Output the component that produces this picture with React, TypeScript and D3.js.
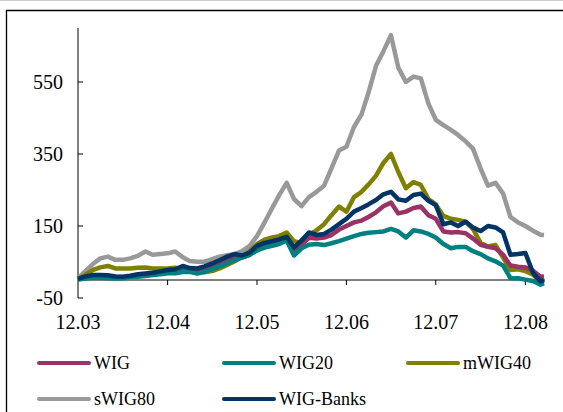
import React, { useEffect, useRef } from 'react';
import * as d3 from 'd3';

// months from Dec 2003 to Feb 2009 (one point per month, last one mid-Feb 2009)
const months: string[] = [
  '2003-12-01',
  '2004-01-01', '2004-02-01', '2004-03-01', '2004-04-01', '2004-05-01', '2004-06-01',
  '2004-07-01', '2004-08-01', '2004-09-01', '2004-10-01', '2004-11-01', '2004-12-01',
  '2005-01-01', '2005-02-01', '2005-03-01', '2005-04-01', '2005-05-01', '2005-06-01',
  '2005-07-01', '2005-08-01', '2005-09-01', '2005-10-01', '2005-11-01', '2005-12-01',
  '2006-01-01', '2006-02-01', '2006-03-01', '2006-04-01', '2006-05-01', '2006-06-01',
  '2006-07-01', '2006-08-01', '2006-09-01', '2006-10-01', '2006-11-01', '2006-12-01',
  '2007-01-01', '2007-02-01', '2007-03-01', '2007-04-01', '2007-05-01', '2007-06-01',
  '2007-07-01', '2007-08-01', '2007-09-01', '2007-10-01', '2007-11-01', '2007-12-01',
  '2008-01-01', '2008-02-01', '2008-03-01', '2008-04-01', '2008-05-01', '2008-06-01',
  '2008-07-01', '2008-08-01', '2008-09-01', '2008-10-01', '2008-11-01', '2008-12-01',
  '2009-01-01', '2009-02-01', '2009-02-15',
];

const wig = [
  2, 8, 12, 12, 11, 8, 8, 10, 13, 15, 17, 21, 25,
  27, 33, 29, 28, 33, 40, 48, 58, 65, 63, 70, 88,
  95, 100, 104, 112, 82, 98, 117, 115, 118, 125, 140, 150,
  160, 165, 175, 188, 205, 215, 185, 190, 200, 204, 180, 170,
  135, 132, 133, 130, 115, 98, 92, 88, 70, 40, 37, 35,
  26, 9, 10,
];

const wig20 = [
  1, 4, 7, 6, 5, 4, 5, 8, 9, 11, 14, 16, 19,
  19, 22, 23, 18, 22, 30, 38, 46, 55, 62, 70, 82,
  90, 95, 100, 110, 68, 88, 98, 100, 97, 102, 108, 115,
  122, 128, 131, 133, 135, 142, 135, 118, 138, 135, 128, 118,
  100, 88, 92, 92, 80, 72, 60, 52, 40, 5, 5, 1,
  -3, -13, -9,
];

const mwig40 = [
  3, 15, 28, 35, 39, 32, 32, 32, 34, 35, 32, 32, 32,
  34, 30, 28, 26, 22, 25, 32, 42, 52, 65, 80, 100,
  112, 118, 122, 132, 108, 102, 125, 138, 155, 180, 204, 190,
  230, 245, 265, 290, 325, 350, 300, 255, 272, 264, 225, 210,
  178, 170, 167, 162, 142, 103, 93, 97, 62, 28, 30, 25,
  15, -5, -3,
];

const swig80 = [
  5, 25, 45, 60, 65, 56, 56, 60, 67, 79, 70, 72, 74,
  79, 63, 53, 51, 51, 58, 65, 69, 72, 80, 95, 122,
  160, 200, 235, 270, 225, 205, 230, 245, 262, 310, 360, 370,
  425, 460, 520, 595, 635, 680, 590, 550, 565, 560, 490, 445,
  430, 417, 403, 385, 365, 310, 262, 270, 240, 175, 160, 150,
  137, 126, 125,
];

const wigBanks = [
  3, 10, 14, 14, 13, 10, 9, 12, 16, 18, 20, 24, 28,
  30, 39, 33, 32, 38, 46, 55, 65, 72, 68, 76, 95,
  103, 108, 113, 120, 90, 110, 132, 125, 128, 140, 155, 170,
  190, 200, 210, 222, 238, 245, 224, 220, 236, 240, 220, 208,
  155, 160, 150, 162, 146, 136, 150, 146, 132, 70, 72, 75,
  20, -4, 0,
];

const seriesNames = ['WIG', 'WIG20', 'mWIG40', 'sWIG80', 'WIG-Banks'];
const seriesValues = [wig, wig20, mwig40, swig80, wigBanks];
const seriesColors = ['#993366', '#008080', '#808000', '#999999', '#003366'];
// drawing order: sWIG80 behind, then the rest
const drawOrder = [3, 2, 0, 1, 4];

const xTickDates = ['2003-12-01', '2004-12-01', '2005-12-01', '2006-12-01', '2007-12-01', '2008-12-01'];
const xTickLabels = ['12.03', '12.04', '12.05', '12.06', '12.07', '12.08'];
const yTicks = [-50, 150, 350, 550];

const App: React.FC = () => {
  const ref = useRef<SVGSVGElement | null>(null);

  useEffect(() => {
    if (!ref.current) return;
    const svg = d3.select(ref.current);
    svg.selectAll('*').remove();

    const parse = d3.timeParse('%Y-%m-%d');
    const dates = months.map(d => parse(d) as Date);

    const x = d3.scaleTime()
      .domain([dates[0], dates[dates.length - 1]])
      .range([78, 544]);
    const y = d3.scaleLinear().domain([-50, 700]).range([298, 28]);

    // outer frame
    svg.append('line')
      .attr('x1', 0).attr('x2', 563).attr('y1', 0.5).attr('y2', 0.5)
      .attr('stroke', '#cfcfcf');
    svg.append('path')
      .attr('d', 'M6.5,413 V10.5 H564')
      .attr('fill', 'none')
      .attr('stroke', '#000')
      .attr('stroke-width', 1.3);

    const font = '"Liberation Serif", "Times New Roman", serif';

    // y axis
    const yAxis = svg.append('g');
    yAxis.append('line')
      .attr('x1', 78).attr('x2', 78)
      .attr('y1', y(700)).attr('y2', y(-50))
      .attr('stroke', '#000').attr('stroke-width', 1);
    yAxis.selectAll('.ytick')
      .data(yTicks)
      .enter().append('line')
      .attr('x1', 78).attr('x2', 83)
      .attr('y1', d => y(d)).attr('y2', d => y(d))
      .attr('stroke', '#000');
    yAxis.selectAll('.ylabel')
      .data(yTicks)
      .enter().append('text')
      .attr('x', 63)
      .attr('y', d => y(d))
      .attr('dy', '0.35em')
      .attr('text-anchor', 'end')
      .style('font-family', font)
      .style('font-size', '20px')
      .text(d => String(d));

    // x axis (crosses at 0)
    const xAxis = svg.append('g');
    xAxis.append('line')
      .attr('x1', 78).attr('x2', 545)
      .attr('y1', y(0)).attr('y2', y(0))
      .attr('stroke', '#000');
    const tickDates = xTickDates.map(d => parse(d) as Date);
    xAxis.selectAll('.xtick')
      .data(tickDates.slice(1))
      .enter().append('line')
      .attr('x1', d => x(d)).attr('x2', d => x(d))
      .attr('y1', y(0)).attr('y2', y(0) + 5)
      .attr('stroke', '#000');
    xAxis.selectAll('.xlabel')
      .data(tickDates)
      .enter().append('text')
      .attr('x', d => x(d))
      .attr('y', 329)
      .attr('text-anchor', 'middle')
      .style('font-family', font)
      .style('font-size', '20px')
      .text((d, i) => xTickLabels[i]);

    // series
    const line = d3.line<number>()
      .x((d, i) => x(dates[i]))
      .y(d => y(d));

    drawOrder.forEach(si => {
      svg.append('path')
        .datum(seriesValues[si])
        .attr('d', line)
        .attr('fill', 'none')
        .attr('stroke', seriesColors[si])
        .attr('stroke-width', 4.5)
        .attr('stroke-linejoin', 'round');
    });

    // legend
    const legendPos = [
      { lx: 39, ly: 363 },
      { lx: 224, ly: 363 },
      { lx: 408, ly: 363 },
      { lx: 39, ly: 399 },
      { lx: 224, ly: 399 },
    ];
    const legend = svg.append('g');
    seriesNames.forEach((name, i) => {
      const p = legendPos[i];
      legend.append('line')
        .attr('x1', p.lx).attr('x2', p.lx + 50)
        .attr('y1', p.ly).attr('y2', p.ly)
        .attr('stroke', seriesColors[i])
        .attr('stroke-width', 4)
        .attr('stroke-linecap', 'round');
      legend.append('text')
        .attr('x', p.lx + 55)
        .attr('y', p.ly)
        .attr('dy', '0.35em')
        .style('font-family', font)
        .style('font-size', '18px')
        .text(name);
    });
  }, []);

  return (
    <svg
      ref={ref}
      width={563}
      height={412}
      style={{ position: 'absolute', left: 0, top: 0, background: '#fff' }}
    />
  );
};

export default App;
